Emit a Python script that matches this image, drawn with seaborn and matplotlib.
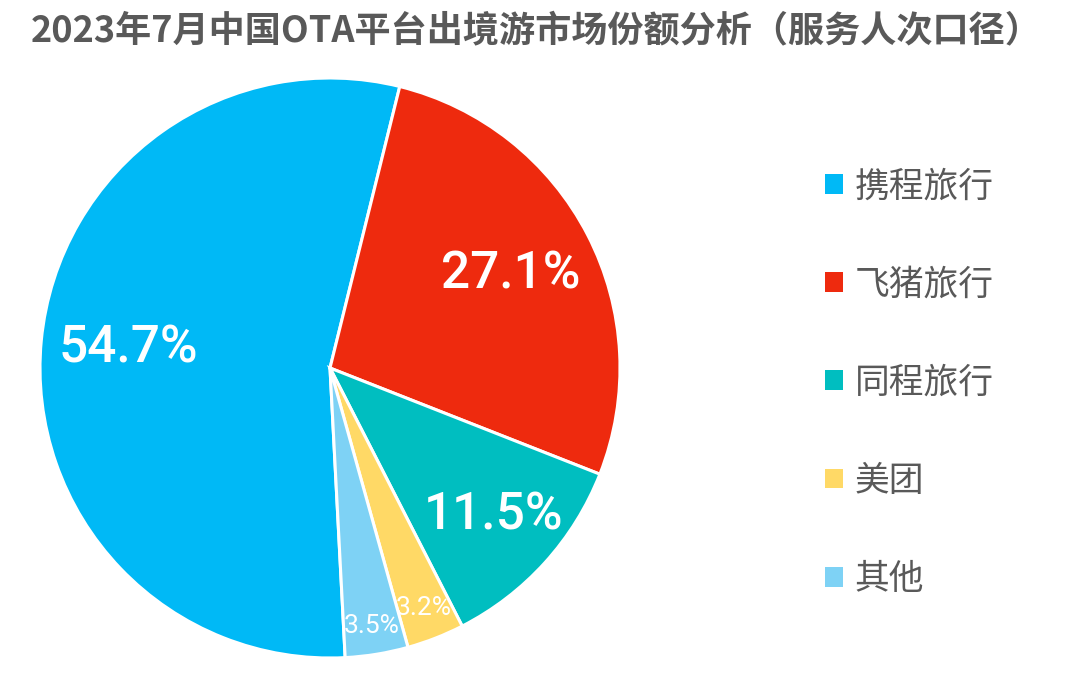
import numpy as np
import seaborn as sns
import matplotlib.pyplot as plt

# Data
platforms = ['携程旅行', '飞猪旅行', '同程旅行', '美团', '其他']
shares = [54.7, 27.1, 11.5, 3.2, 3.5]
share_labels = ['54.7%', '27.1%', '11.5%', '3.2%', '3.5%']
colors = ['#00B9F6', '#EE2A0E', '#00BEC0', '#FFD966', '#7ED2F5']
TITLE = '2023年7月中国OTA平台出境游市场份额分析（服务人次口径）'

sns.set_theme(style='white')
plt.rcParams['font.family'] = ['Noto Sans CJK SC', 'DejaVu Sans']

fig = plt.figure(figsize=(10.8, 6.74), dpi=100)
ax = fig.add_axes([40 / 1080, 16 / 674, 580 / 1080, 580 / 674])

wedges, _ = ax.pie(shares, colors=colors, startangle=-87, counterclock=False,
                   radius=1, wedgeprops=dict(edgecolor='white', linewidth=2.2))
ax.set_xlim(-1, 1)
ax.set_ylim(-1, 1)
ax.set_aspect('equal')
ax.axis('off')

# Percentage labels inside the wedges
dists = [0.70, 0.70, 0.76, 0.89, 0.90]
sizes = [37, 37, 37, 19, 19]
for w, lab, d, s in zip(wedges, share_labels, dists, sizes):
    ang = np.deg2rad((w.theta1 + w.theta2) / 2)
    ax.text(d * np.cos(ang), d * np.sin(ang), lab, ha='center', va='center',
            color='white', fontsize=s, family=['Roboto', 'DejaVu Sans'],
            fontweight='medium' if s > 20 else 'normal')

# Legend
leg = fig.legend(wedges, platforms, loc='upper left', bbox_to_anchor=(794 / 1080, 1 - 138 / 674),
                 frameon=False, fontsize=25, handlelength=0.5, handleheight=0.5,
                 handletextpad=0.35, labelspacing=1.82)
for t in leg.get_texts():
    t.set_color('#595959')
for h in leg.legend_handles:
    h.set_edgecolor('none')

fig.text(536 / 1080, 1 - 31 / 674, TITLE, ha='center', va='center',
         fontsize=26, fontweight='bold', color='#595959')

fig.savefig('out.png', dpi=100)
